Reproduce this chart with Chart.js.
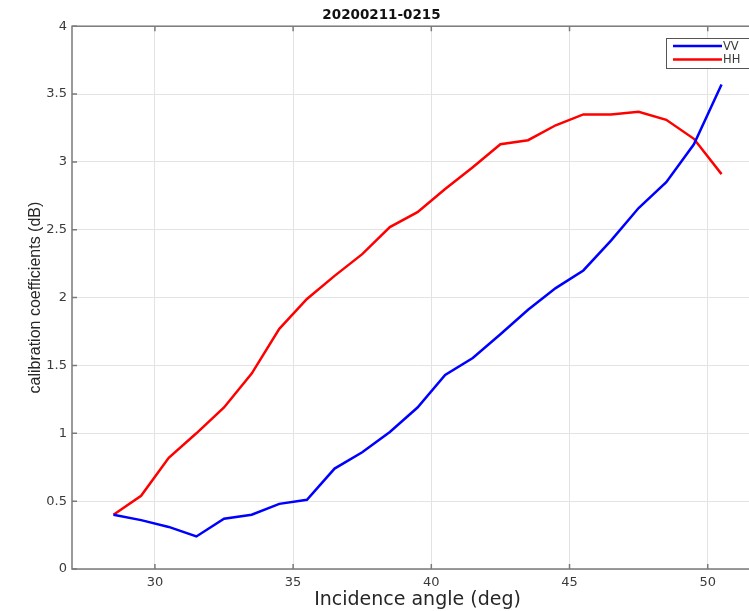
<!DOCTYPE html>
<html lang="en">

<head>
    <meta charset="UTF-8">
    <title>20200211-0215</title>
    <script src="https://cdn.jsdelivr.net/npm/chart.js"></script>
    <style>
        html, body { margin: 0; padding: 0; overflow: hidden; background: #fff; }
        #wrap { width: 775px; height: 611px; }
    </style>
</head>

<body>
    <div id="wrap"><canvas id="calChart" width="775" height="611"></canvas></div>

    <script>
        // incidence angle (deg)
        const angles = [28.5, 29.5, 30.5, 31.5, 32.5, 33.5, 34.5, 35.5, 36.5, 37.5, 38.5, 39.5,
            40.5, 41.5, 42.5, 43.5, 44.5, 45.5, 46.5, 47.5, 48.5, 49.5, 50.5];
        const vv = [0.40, 0.36, 0.31, 0.24, 0.37, 0.40, 0.48, 0.51, 0.74, 0.86, 1.01, 1.19,
            1.43, 1.555, 1.73, 1.91, 2.07, 2.20, 2.42, 2.66, 2.85, 3.13, 3.57];
        const hh = [0.40, 0.54, 0.82, 1.00, 1.19, 1.44, 1.77, 1.99, 2.16, 2.32, 2.52, 2.63,
            2.80, 2.96, 3.13, 3.16, 3.27, 3.35, 3.35, 3.37, 3.31, 3.17, 2.91];
        const xTicks = [30, 35, 40, 45, 50];
        const yTicks = [0, 0.5, 1, 1.5, 2, 2.5, 3, 3.5, 4];

        const axisColor = '#7a7a7a';
        const textColor = '#3a3a3a';
        const wide = '"DejaVu Sans", Verdana, sans-serif';

        // matlab style: box around axes, ticks pointing inward, legend inside top right
        const matlabAxes = {
            id: 'matlabAxes',
            afterDatasetsDraw(chart) {
                const { ctx, chartArea: a, scales: { x, y } } = chart;
                ctx.save();
                ctx.strokeStyle = axisColor;
                ctx.lineWidth = 1.5;
                ctx.strokeRect(a.left, a.top, a.right - a.left, a.bottom - a.top);
                ctx.beginPath();
                xTicks.forEach(v => {
                    const px = x.getPixelForValue(v);
                    ctx.moveTo(px, a.bottom); ctx.lineTo(px, a.bottom - 5);
                    ctx.moveTo(px, a.top); ctx.lineTo(px, a.top + 5);
                });
                yTicks.forEach(v => {
                    const py = y.getPixelForValue(v);
                    ctx.moveTo(a.left, py); ctx.lineTo(a.left + 5, py);
                    ctx.moveTo(a.right, py); ctx.lineTo(a.right - 5, py);
                });
                ctx.stroke();

                // legend
                const bx = 666, by = 38, bw = 84, bh = 30;
                ctx.fillStyle = '#fff';
                ctx.fillRect(bx, by, bw, bh);
                ctx.strokeStyle = '#555';
                ctx.lineWidth = 1;
                ctx.strokeRect(bx + 0.5, by + 0.5, bw, bh);
                ctx.font = '11.5px ' + wide;
                ctx.textBaseline = 'middle';
                chart.data.datasets.forEach((ds, i) => {
                    const ly = by + 8 + i * 13.5;
                    ctx.strokeStyle = ds.borderColor;
                    ctx.lineWidth = 2.5;
                    ctx.beginPath();
                    ctx.moveTo(673, ly); ctx.lineTo(722, ly);
                    ctx.stroke();
                    ctx.fillStyle = textColor;
                    ctx.fillText(ds.label, 723, ly + 1);
                });
                ctx.restore();
            }
        };

        new Chart(document.getElementById('calChart'), {
            type: 'scatter',
            data: {
                datasets: [
                    {
                        label: 'VV',
                        data: angles.map((a, i) => ({ x: a, y: vv[i] })),
                        showLine: true,
                        borderColor: '#0000ff',
                        borderWidth: 2.5,
                        pointRadius: 0
                    },
                    {
                        label: 'HH',
                        data: angles.map((a, i) => ({ x: a, y: hh[i] })),
                        showLine: true,
                        borderColor: '#ff0000',
                        borderWidth: 2.5,
                        pointRadius: 0
                    }
                ]
            },
            options: {
                responsive: false,
                animation: false,
                layout: { padding: { left: 0, right: 12, top: 0, bottom: 0 } },
                plugins: {
                    legend: { display: false },
                    tooltip: { enabled: false },
                    title: {
                        display: true,
                        text: '20200211-0215',
                        color: '#111',
                        font: { family: wide, size: 13.5, weight: 'bold' },
                        padding: { top: 7, bottom: 3 }
                    }
                },
                scales: {
                    x: {
                        type: 'linear',
                        min: 27,
                        max: 52,
                        afterBuildTicks: s => { s.ticks = xTicks.map(v => ({ value: v })); },
                        afterFit: s => { s.height = 42; },
                        border: { display: false },
                        grid: { color: '#e3e3e3', drawTicks: false },
                        ticks: {
                            color: textColor,
                            padding: 6,
                            font: { family: wide, size: 13 }
                        },
                        title: {
                            display: true,
                            text: 'Incidence angle (deg)',
                            color: '#262626',
                            padding: { top: 0, bottom: 0 },
                            font: { family: wide, size: 19 }
                        }
                    },
                    y: {
                        min: 0,
                        max: 4,
                        afterBuildTicks: s => { s.ticks = yTicks.map(v => ({ value: v })); },
                        afterFit: s => { s.width = 72; },
                        border: { display: false },
                        grid: { color: '#e3e3e3', drawTicks: false },
                        ticks: {
                            color: textColor,
                            padding: 5,
                            font: { family: wide, size: 13 },
                            callback: v => String(v)
                        },
                        title: {
                            display: true,
                            text: 'calibration coefficients (dB)',
                            color: '#262626',
                            padding: { top: 26, bottom: 0 },
                            font: { family: '"Liberation Sans", Arial, sans-serif', size: 16 }
                        }
                    }
                }
            },
            plugins: [matlabAxes]
        });
    </script>
</body>

</html>
